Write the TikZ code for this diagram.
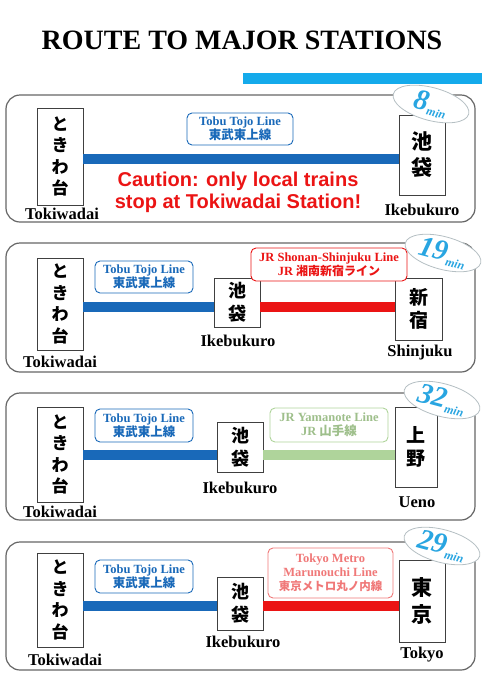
\documentclass[tikz,border=0pt]{standalone}
\usepackage{fontspec}
\setmainfont{Liberation Serif}
\setsansfont{Liberation Sans}
\newfontfamily\cjk{Noto Sans CJK JP}
\usetikzlibrary{shapes.geometric}
\definecolor{tobublue}{RGB}{25,105,185}
\definecolor{jrred}{RGB}{235,20,20}
\definecolor{yamagreen}{RGB}{175,212,155}
\definecolor{skyblue}{RGB}{20,170,235}
\definecolor{minblue}{RGB}{40,165,225}
\definecolor{metropink}{RGB}{240,120,120}

\begin{document}
\begin{tikzpicture}[x=1pt,y=-1pt,
  panel/.style={draw=black!60,line width=1.2pt,rounded corners=14pt},
  stn/.style={draw=black!75,line width=0.9pt,fill=white,inner sep=0pt,align=center,
              font=\cjk\bfseries\fontsize{17}{21.5}\selectfont},
  stname/.style={font=\bfseries\fontsize{16.5}{18}\selectfont},
  linebox/.style={draw,line width=0.9pt,rounded corners=5pt,fill=white,align=center,
                  inner sep=1pt,font=\bfseries\fontsize{12.5}{14}\selectfont},
  track/.style={line width=10pt},
  badge/.style={ellipse,draw=minblue!25!black!30,fill=white,line width=0.8pt,minimum width=78pt,
                minimum height=31pt,rotate=-15,inner sep=0pt,text=minblue,
                font=\bfseries\itshape\fontsize{29}{29}\selectfont},
  warn/.style={text=jrred,align=center,font=\sffamily\bfseries\fontsize{20}{22}\selectfont}
]
\useasboundingbox (0,0) rectangle (482,683);

\node (title) at (242,40) {\bfseries\fontsize{28}{30}\selectfont ROUTE TO MAJOR STATIONS};
\fill[skyblue] (243,73) rectangle (482,84);

% Tokiwadai - Ikebukuro
\draw[panel] (6,95) rectangle (475,222);
\node[stn,minimum width=46pt,minimum height=97pt] (tok1) at (60,156.5) {と\\き\\わ\\台};
\node[stn,minimum width=46pt,minimum height=80pt,font=\cjk\bfseries\fontsize{21}{26}\selectfont]
  (ike1) at (422,155) {池\\袋};
\node[stname] (tokn1) at (62,214) {Tokiwadai};
\node[stname] (iken1) at (422,210) {Ikebukuro};
\coordinate (t1) at (0,158.5);
\draw[track,tobublue] (tok1.east |- t1) -- (ike1.west |- t1);
\node[linebox,draw=tobublue,text=tobublue,minimum width=106pt,minimum height=32pt]
  (tobu1) at (240,129) {Tobu Tojo Line\\{\cjk\fontsize{12.5}{13}\selectfont 東武東上線}};
\node[warn] (caution) at (238,192) {Caution: only local trains\\stop at Tokiwadai Station!};
\node[badge] (min1) at (431,104) {8{\fontsize{12}{12}\selectfont\raisebox{-4pt}{min}}};

% Tokiwadai - Shinjuku
\draw[panel] (6,243) rectangle (475,372);
\node[stn,minimum width=46pt,minimum height=92pt] (tok2) at (60,304) {と\\き\\わ\\台};
\node[stn,minimum width=46pt,minimum height=49pt,font=\cjk\bfseries\fontsize{18}{23}\selectfont]
  (ike2) at (237,302.5) {池\\袋};
\node[stn,minimum width=47pt,minimum height=62pt,font=\cjk\bfseries\fontsize{19}{23}\selectfont]
  (shin2) at (418.5,309) {新\\宿};
\node[stname] (tokn2) at (60,362) {Tokiwadai};
\node[stname] (iken2) at (238,341) {Ikebukuro};
\node[stname] (shinn2) at (420,353) {Shinjuku};
\coordinate (t2) at (0,307);
\draw[track,tobublue] (tok2.east |- t2) -- (ike2.west |- t2);
\draw[track,jrred] (ike2.east |- t2) -- (shin2.west |- t2);
\node[linebox,draw=tobublue,text=tobublue,minimum width=98pt,minimum height=32pt]
  (tobu2) at (144,277) {Tobu Tojo Line\\{\cjk\fontsize{12.5}{13}\selectfont 東武東上線}};
\node[linebox,draw=jrred,text=jrred,minimum width=156pt,minimum height=33pt]
  (shonan2) at (329,264.5) {JR Shonan-Shinjuku Line\\JR {\cjk\fontsize{12}{13}\selectfont 湘南新宿ライン}};
\node[badge] (min2) at (443,253) {19{\fontsize{12}{12}\selectfont\raisebox{-4pt}{min}}};

% Tokiwadai - Ueno
\draw[panel] (6,393) rectangle (475,520);
\node[stn,minimum width=46pt,minimum height=95pt] (tok3) at (60,454.5) {と\\き\\わ\\台};
\node[stn,minimum width=46pt,minimum height=50pt,font=\cjk\bfseries\fontsize{18}{23}\selectfont]
  (ike3) at (240,447) {池\\袋};
\node[stn,minimum width=42pt,minimum height=80pt,font=\cjk\bfseries\fontsize{19}{23}\selectfont]
  (ueno3) at (416,447) {上\\野};
\node[stname] (tokn3) at (60,512) {Tokiwadai};
\node[stname] (iken3) at (240,488) {Ikebukuro};
\node[stname] (uenon3) at (417,502) {Ueno};
\coordinate (t3) at (0,455);
\draw[track,tobublue] (tok3.east |- t3) -- (ike3.west |- t3);
\draw[track,yamagreen] (ike3.east |- t3) -- (ueno3.west |- t3);
\node[linebox,draw=tobublue,text=tobublue,minimum width=98pt,minimum height=33pt]
  (tobu3) at (144,425.5) {Tobu Tojo Line\\{\cjk\fontsize{12.5}{13}\selectfont 東武東上線}};
\node[linebox,draw=yamagreen,text=yamagreen!90!black,minimum width=118pt,minimum height=34pt]
  (yama3) at (329,425) {JR Yamanote Line\\JR {\cjk\fontsize{12.5}{13}\selectfont 山手線}};
\node[badge] (min3) at (442,400) {32{\fontsize{12}{12}\selectfont\raisebox{-4pt}{min}}};

% Tokiwadai - Tokyo
\draw[panel] (6,542) rectangle (475,670);
\node[stn,minimum width=46pt,minimum height=94pt] (tok4) at (60,600) {と\\き\\わ\\台};
\node[stn,minimum width=46pt,minimum height=53pt,font=\cjk\bfseries\fontsize{18}{23}\selectfont]
  (ike4) at (240,603.5) {池\\袋};
\node[stn,minimum width=46pt,minimum height=82pt,font=\cjk\bfseries\fontsize{21}{27}\selectfont]
  (tokyo4) at (422,601) {東\\京};
\node[stname] (tokn4) at (65,660) {Tokiwadai};
\node[stname] (iken4) at (243,642) {Ikebukuro};
\node[stname] (tokyon4) at (422,655) {Tokyo};
\coordinate (t4) at (0,606);
\draw[track,tobublue] (tok4.east |- t4) -- (ike4.west |- t4);
\draw[track,jrred] (ike4.east |- t4) -- (tokyo4.west |- t4);
\node[linebox,draw=tobublue,text=tobublue,minimum width=98pt,minimum height=33pt]
  (tobu4) at (144,576.5) {Tobu Tojo Line\\{\cjk\fontsize{12.5}{13}\selectfont 東武東上線}};
\node[linebox,draw=metropink,text=metropink,minimum width=125pt,minimum height=50pt]
  (maru4) at (330.5,573) {Tokyo Metro\\Marunouchi Line\\{\cjk\fontsize{11.5}{13}\selectfont 東京メトロ丸ノ内線}};
\node[badge] (min4) at (442,546) {29{\fontsize{12}{12}\selectfont\raisebox{-4pt}{min}}};
\end{tikzpicture}
\end{document}
